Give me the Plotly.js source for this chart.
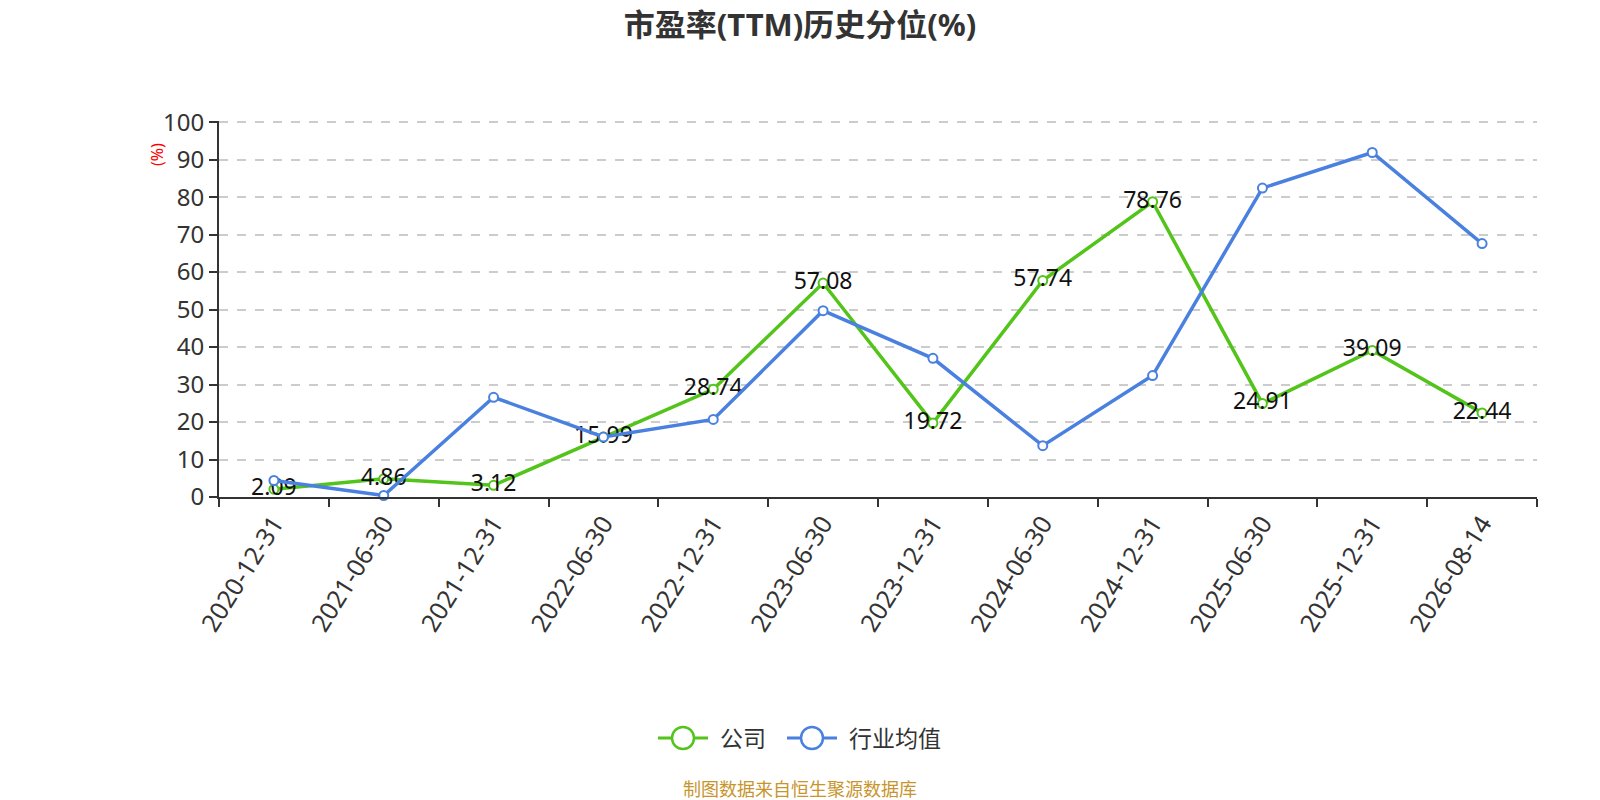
<!DOCTYPE html>
<html>
<head>
<meta charset="utf-8">
<script src="https://cdn.plot.ly/plotly-3.0.1.min.js"></script>
<style>
  html, body { margin: 0; padding: 0; background: #fff; }
  #chart { width: 1600px; height: 800px; }
</style>
</head>
<body>
<div id="chart"></div>
<script>
var categories = ["2020-12-31", "2021-06-30", "2021-12-31", "2022-06-30", "2022-12-31", "2023-06-30",
  "2023-12-31", "2024-06-30", "2024-12-31", "2025-06-30", "2025-12-31", "2026-08-14"];
var companyValues = [2.09, 4.86, 3.12, 15.99, 28.74, 57.08, 19.72, 57.74, 78.76, 24.91, 39.09, 22.44];
var industryValues = [4.4, 0.4, 26.6, 16.0, 20.7, 49.7, 37.0, 13.7, 32.4, 82.4, 91.9, 67.6];
var yTicks = [0, 10, 20, 30, 40, 50, 60, 70, 80, 90, 100];
var seriesNames = ["公司", "行业均值"];
var seriesColors = ["#52c41a", "#4a80e0"];

var font = "Noto Sans, Noto Sans CJK SC, sans-serif";

// plot box in pixels, used to place the hand-made legend
var L = 219, R = 63, T = 121, B = 303, W = 1600, H = 800;
var pw = W - L - R, ph = H - T - B;
function px(x) { return (x - L) / pw; }
function py(y) { return (H - B - y) / ph; }

var company = {
  x: categories,
  y: companyValues,
  type: "scatter",
  mode: "lines+markers+text",
  name: seriesNames[0],
  showlegend: false,
  line: { color: seriesColors[0], width: 3.5 },
  marker: { symbol: "circle", size: 9, color: "#ffffff", line: { color: seriesColors[0], width: 2 } },
  text: companyValues.map(function (v) { return v.toFixed(2); }),
  textposition: "middle center",
  textfont: { family: font, size: 23, color: "#111111" },
  cliponaxis: false,
  hoverinfo: "x+y"
};

var industry = {
  x: categories,
  y: industryValues,
  type: "scatter",
  mode: "lines+markers",
  name: seriesNames[1],
  showlegend: false,
  line: { color: seriesColors[1], width: 3.5 },
  marker: { symbol: "circle", size: 9, color: "#ffffff", line: { color: seriesColors[1], width: 2 } },
  cliponaxis: false,
  hoverinfo: "x+y"
};

// legend: line + big open circle + label
var legendY = py(738);
var legendItems = [
  { cx: 683, tx: 718 },
  { cx: 812, tx: 847 }
];
var shapes = [];
var annotations = [];
legendItems.forEach(function (it, i) {
  shapes.push({
    type: "line", xref: "paper", yref: "paper",
    xsizemode: "pixel", ysizemode: "pixel",
    xanchor: px(it.cx), yanchor: legendY,
    x0: -25, x1: 25, y0: 0, y1: 0,
    line: { color: seriesColors[i], width: 3 }
  });
  shapes.push({
    type: "circle", xref: "paper", yref: "paper",
    xsizemode: "pixel", ysizemode: "pixel",
    xanchor: px(it.cx), yanchor: legendY,
    x0: -11, x1: 11, y0: -11, y1: 11,
    fillcolor: "#ffffff",
    line: { color: seriesColors[i], width: 2.5 }
  });
  annotations.push({
    text: seriesNames[i], xref: "paper", yref: "paper",
    x: px(it.tx), y: legendY, xanchor: "left", yanchor: "middle",
    showarrow: false,
    font: { family: font, size: 23, color: "#333333" }
  });
});

annotations.push({
  text: "(%)",
  xref: "paper", yref: "paper",
  x: px(157), y: py(155),
  xanchor: "center", yanchor: "middle",
  textangle: -90,
  showarrow: false,
  font: { family: font, size: 16, color: "#ff0000" }
});
annotations.push({
  text: "制图数据来自恒生聚源数据库",
  xref: "paper", yref: "paper",
  x: px(800), y: py(789),
  xanchor: "center", yanchor: "middle",
  showarrow: false,
  font: { family: font, size: 18, color: "#c8952c" }
});

var layout = {
  width: W,
  height: H,
  margin: { t: T, r: R, b: B, l: L },
  paper_bgcolor: "#ffffff",
  plot_bgcolor: "#ffffff",
  font: { family: font, color: "#333333" },
  title: {
    text: "<b>市盈率(TTM)历史分位(%)</b>",
    font: { family: font, size: 31, color: "#333333" },
    x: 0.5,
    xanchor: "center",
    y: 1 - 25 / H,
    yanchor: "middle",
    yref: "container"
  },
  xaxis: {
    type: "category",
    range: [-0.5, categories.length - 0.5],
    showgrid: false,
    showline: true,
    linecolor: "#333333",
    linewidth: 2,
    ticks: "outside",
    tickson: "boundaries",
    ticklen: 8,
    tickwidth: 2,
    tickcolor: "#333333",
    tickangle: -58,
    tickfont: { family: font, size: 25, color: "#333333" },
    zeroline: false
  },
  yaxis: {
    range: [0, 100.3],
    tickvals: yTicks,
    showgrid: true,
    gridcolor: "#cccccc",
    griddash: "dash",
    gridwidth: 1.5,
    showline: true,
    linecolor: "#333333",
    linewidth: 2,
    ticks: "outside",
    ticklen: 8,
    tickwidth: 2,
    tickcolor: "#333333",
    tickfont: { family: font, size: 24, color: "#333333" },
    zeroline: false
  },
  showlegend: false,
  shapes: shapes,
  annotations: annotations
};

Plotly.newPlot("chart", [company, industry], layout, { displayModeBar: false, responsive: false });
</script>
</body>
</html>
